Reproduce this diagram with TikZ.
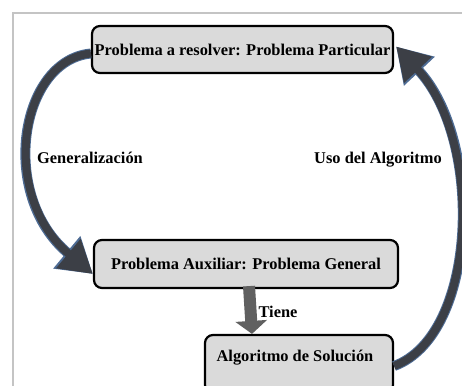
\documentclass[tikz,border=0pt]{standalone}
\usepackage{fontspec}
\setmainfont{Liberation Serif}
\usetikzlibrary{arrows.meta}
\definecolor{boxfill}{HTML}{DADADA}
\definecolor{arrowdark}{HTML}{3C3F46}
\definecolor{arrowedge}{HTML}{4E6C95}
\definecolor{framegray}{HTML}{C4C4C4}
\tikzset{
  probbox/.style={draw=black, line width=2.2pt, fill=boxfill, rounded corners=8pt,
    font=\fontsize{16.4}{19}\selectfont\bfseries, inner sep=0pt, align=center},
  lbl/.style={font=\fontsize{16.4}{19}\selectfont\bfseries, inner sep=0pt},
  bigarrow/.style={line width=8pt, draw=arrowdark,
    preaction={draw=arrowedge, line width=10pt, -{Triangle[length=34pt,width=40pt]}},
    -{Triangle[length=32pt,width=36pt]}},
  fatarrow/.style={line width=12pt, draw=gray!75!black,
    -{Triangle[length=13pt,width=31pt]}}
}
\begin{document}
\begin{tikzpicture}[x=1pt,y=-1pt]
\clip (0,0) rectangle (462,385);
\fill[white] (0,0) rectangle (462,385);
% frame
\draw[framegray, line width=1.2pt] (13,390) -- (13,13) -- (470,13);
% boxes
\node[probbox, minimum width=301pt, minimum height=47pt] (top) at (242.5,49.5) {Problema a resolver: Problema Particular};
\node[probbox, minimum width=304pt, minimum height=48pt] (mid) at (246,264) {Problema Auxiliar: Problema General};
\node[probbox, minimum width=188pt, minimum height=58pt] (bot) at (299,364) {};
\node[lbl] (bottext) at (295,358) {Algoritmo de Solución};
% anchors for arrows
\coordinate (lstart) at ([yshift=-4pt]top.west);
\coordinate (ltip) at ([shift={(0pt,-10pt)}]mid.west);
\coordinate (rstart) at ([yshift=-2pt]bot.east);
\coordinate (rtip) at ([shift={(2pt,3pt)}]top.east);
% arrows
\draw[bigarrow] (lstart) .. controls (20,60) and (-2,195) .. (ltip);
\draw[bigarrow] (rstart) .. controls (478,335) and (484,140) .. (rtip);
\draw[fatarrow] ([xshift=3pt]mid.south) ++(0,3pt) coordinate (tstart) -- ([xshift=-47pt]bot.north);
% labels
\node[lbl] (gen) at (90,158) {Generalización};
\node[lbl] (uso) at (378,160) {Uso del Algoritmo};
\node[lbl] (tiene) at (278,312) {Tiene};
\end{tikzpicture}
\end{document}
